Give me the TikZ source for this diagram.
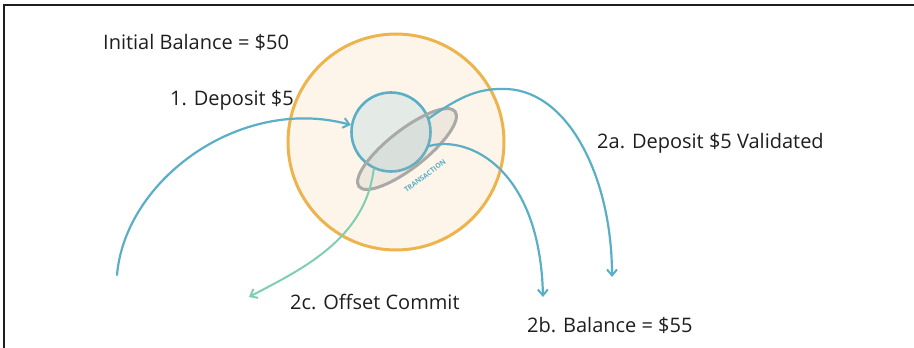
\documentclass[tikz,border=0pt]{standalone}
\usepackage{fontspec}
\setmainfont{Open Sans}
\usepackage{xcolor}
\usepackage{tikz}
\usetikzlibrary{positioning, calc, arrows.meta, shapes.geometric}
\definecolor{ring}{HTML}{EDB44E}
\definecolor{ringfill}{HTML}{FDF5EA}
\definecolor{flow}{HTML}{5AAEC6}
\definecolor{corefill}{HTML}{E4EBE6}
\definecolor{commit}{HTML}{7FCDB2}
\definecolor{halo}{HTML}{A9A9A7}
\definecolor{ink}{HTML}{1E1E1E}

\tikzset{
  label text/.style={font=\fontsize{20}{24}\selectfont, text=ink, inner sep=0pt},
  flow arrow/.style={draw=flow, line width=2.2pt, line cap=round, -{Straight Barb[length=6pt, width=10pt, line width=2pt]}},
}

\begin{document}
\begin{tikzpicture}[x=1pt, y=-1pt]
  \useasboundingbox (0,0) rectangle (914,348);
  % Frame
  \draw[ink, line width=1.4pt] (4,348) -- (4,5) -- (914,5);
  % Wallet and topic
  \node[circle, draw=ring, fill=ringfill, line width=3pt, minimum size=216pt, inner sep=0pt] (wallet) at (396,142) {};
  \node[circle, draw=flow, fill=corefill, line width=2.6pt, minimum size=79pt, inner sep=0pt] (topic) at (391,132) {};
  \node[ellipse, draw=halo, fill=halo, fill opacity=0.18, draw opacity=1, line width=3pt,
        minimum width=122pt, minimum height=38pt, inner sep=0pt, rotate=38] (txn) at (407,149) {};
  \node[font=\bfseries\fontsize{7}{8}\selectfont, text=flow, rotate=37, inner sep=0pt] (txnlab) at (425,176) {TRANSACTION};
  % Free ends
  \coordinate (source) at (117,275);
  \coordinate (validated) at (612,277);
  \coordinate (balance) at (543,297);
  \coordinate (offset) at (249,297);
  % Connectors
  \draw[flow arrow]
    (source) .. controls (125,180) and (240,95) .. (topic.170);
  \draw[flow arrow]
    (topic.20) .. controls (462,95) and (480,88) .. (507,89)
    .. controls (570,92) and (612,180) .. (validated);
  \draw[flow arrow]
    (topic.-20) .. controls (470,135) and (540,170) .. (balance);
  \draw[draw=commit, line width=2pt, line cap=round, -{Straight Barb[length=6pt, width=10pt, line width=2pt]}]
    (topic.-115) .. controls (365,240) and (300,270) .. (offset);
  % Labels
  \node[label text, anchor=west] (initial) at (103,42) {Initial Balance = \$50};
  \node[label text, anchor=west] (deposit) at (170,100) {1. Deposit \$5};
  \node[label text, anchor=west] (valid) at (597,143) {2a. Deposit \$5 Validated};
  \node[label text, anchor=west] (commitlab) at (290,302) {2c. Offset Commit};
  \node[label text, anchor=west] (ballab) at (527,325) {2b. Balance = \$55};
\end{tikzpicture}
\end{document}
